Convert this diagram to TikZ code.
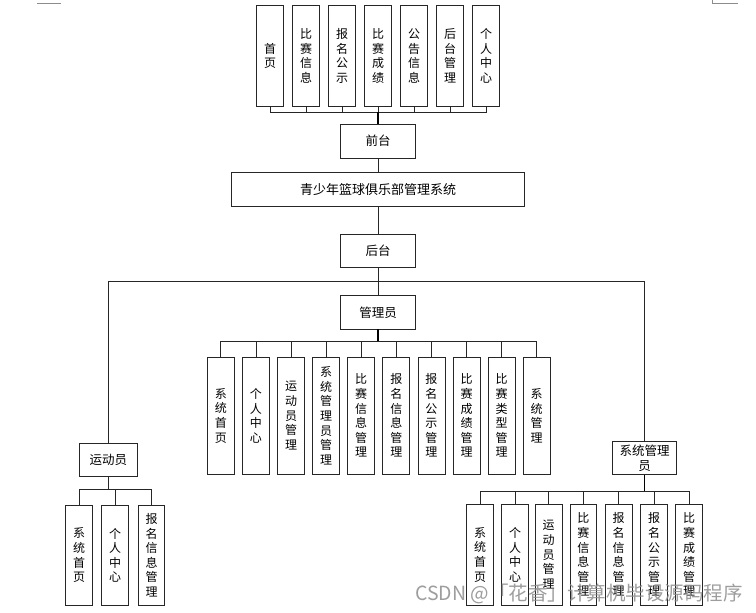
\documentclass[tikz,border=0pt]{standalone}
\usepackage{fontspec}
\newfontfamily\cjk{Noto Sans CJK SC}
\begin{document}
\begin{tikzpicture}[x=1pt,y=-1pt,
  box/.style={draw=black!85, line width=0.8pt, inner sep=0pt, fill=white,
    font=\cjk\fontsize{12}{14.6}\selectfont, align=center},
  topbox/.style={box, minimum width=26.7pt, minimum height=100.3pt},
  admbox/.style={box, minimum width=27pt, minimum height=116.7pt},
  botbox/.style={box, minimum width=26.7pt, minimum height=100.7pt},
  hbox/.style={box, minimum width=75pt, minimum height=33.5pt, font=\cjk\fontsize{12.5}{14.6}\selectfont},
  ln/.style={line width=0.8pt, draw=black!85},
  trunk/.style={line width=1.5pt, draw=black},
  cornermark/.style={line width=0.8pt, draw=black!45}]
\useasboundingbox (0,0) rectangle (756,613);

% page corner marks
\draw[cornermark] (37,3.3) -- (61,3.3);
\draw[cornermark] (712,0) -- (712,3.3) -- (738,3.3);

% top row
\node[topbox] (t1) at (270,55.9) {首\\页};
\node[topbox] (t2) at (306,55.9) {比\\赛\\信\\息};
\node[topbox] (t3) at (342,55.9) {报\\名\\公\\示};
\node[topbox] (t4) at (378,55.9) {比\\赛\\成\\绩};
\node[topbox] (t5) at (414,55.9) {公\\告\\信\\息};
\node[topbox] (t6) at (450,55.9) {后\\台\\管\\理};
\node[topbox] (t7) at (486,55.9) {个\\人\\中\\心};

\node[hbox] (qt) at (378,141.2) {前台};
\node[hbox, minimum width=292.6pt, minimum height=33.3pt, font=\cjk\fontsize{13}{14.6}\selectfont] (sys) at (378,189.3) {青少年篮球俱乐部管理系统};
\node[hbox] (ht) at (378,250.8) {后台};
\node[hbox] (gly) at (378,312.3) {管理员};

% admin row
\node[admbox] (a1) at (220.8,415.7) {系\\统\\首\\页};
\node[admbox] (a2) at (255.9,415.7) {个\\人\\中\\心};
\node[admbox] (a3) at (291.0,415.7) {运\\动\\员\\管\\理};
\node[admbox] (a4) at (326.1,415.7) {系\\统\\管\\理\\员\\管\\理};
\node[admbox] (a5) at (361.2,415.7) {比\\赛\\信\\息\\管\\理};
\node[admbox] (a6) at (396.3,415.7) {报\\名\\信\\息\\管\\理};
\node[admbox] (a7) at (431.4,415.7) {报\\名\\公\\示\\管\\理};
\node[admbox] (a8) at (466.5,415.7) {比\\赛\\成\\绩\\管\\理};
\node[admbox] (a9) at (501.6,415.7) {比\\赛\\类\\型\\管\\理};
\node[admbox] (a10) at (536.7,415.7) {系\\统\\管\\理};

% athlete
\node[hbox, minimum width=58.7pt, minimum height=33.3pt] (ydy) at (108.3,460) {运动员};
\node[botbox] (l1) at (79,555.3) {系\\统\\首\\页};
\node[botbox] (l2) at (115.2,555.3) {个\\人\\中\\心};
\node[botbox] (l3) at (151.5,555.3) {报\\名\\信\\息\\管\\理};

% system admin
\node[hbox, minimum width=64pt, minimum height=33.3pt, anchor=north] (xtgly) at (644.7,441) {系统管理\\员};
\node[botbox] (r1) at (480,554.7) {系\\统\\首\\页};
\node[botbox] (r2) at (515,554.7) {个\\人\\中\\心};
\node[botbox] (r3) at (548.7,554.7) {运\\动\\员\\管\\理};
\node[botbox] (r4) at (583.3,554.7) {比\\赛\\信\\息\\管\\理};
\node[botbox] (r5) at (618.7,554.7) {报\\名\\信\\息\\管\\理};
\node[botbox] (r6) at (654,554.7) {报\\名\\公\\示\\管\\理};
\node[botbox] (r7) at (689,554.7) {比\\赛\\成\\绩\\管\\理};

% bus coordinates
\coordinate (tb) at (378,112);
\coordinate (ab) at (378,341.7);
\coordinate (lb) at (108.3,489.3);
\coordinate (rb) at (644.7,491);
\coordinate (brR) at (644.7,281);

% top connectors
\foreach \i in {1,...,7} \draw[ln] (t\i.south) |- (tb);
\draw[trunk] (tb) -- (qt.north);
\draw[ln] (qt.south) -- (sys.north);
\draw[ln] (sys.south) -- (ht.north);
\draw[ln] (ht.south) -- (gly.north);
% bracket
\draw[ln] (ydy.north) |- (brR) -- (xtgly.north);
% admin
\draw[trunk] (gly.south) -- (ab);
\foreach \i in {1,...,10} \draw[ln] (a\i.north) |- (ab);
% athlete
\draw[ln] (ydy.south) -- (lb);
\foreach \i in {1,2,3} \draw[ln] (l\i.north) |- (lb);
% system admin
\draw[trunk] (xtgly.south) -- (rb);
\foreach \i in {1,...,7} \draw[ln] (r\i.north) |- (rb);

% watermark
\node[font=\cjk\fontsize{19.5}{20}\selectfont, text=black!45, opacity=0.85, anchor=west, inner sep=0pt] (wm) at (415,594) {CSDN @「花香」计算机毕设源码程序};
\end{tikzpicture}
\end{document}
